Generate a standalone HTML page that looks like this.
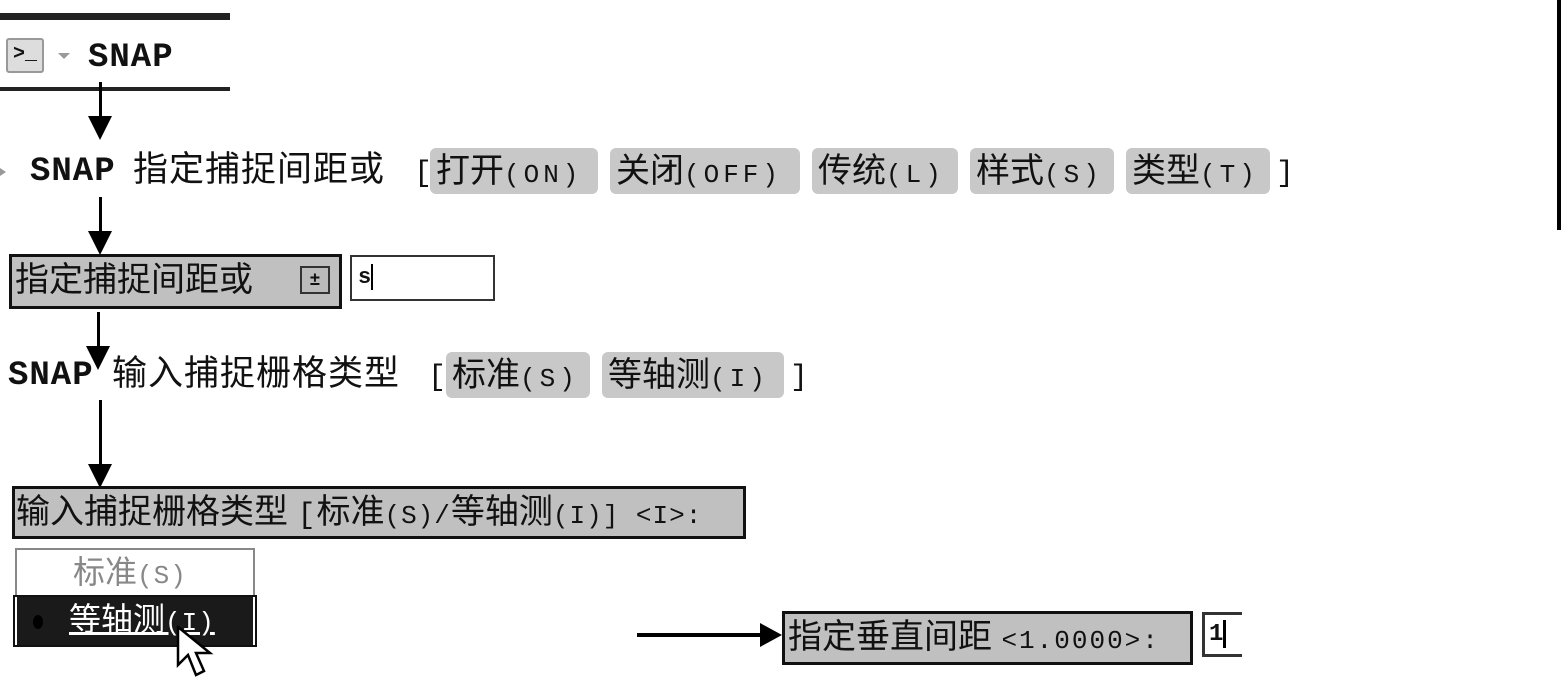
<!DOCTYPE html>
<html><head><meta charset="utf-8"><style>
body{margin:0;width:1564px;height:678px;background:#fff;position:relative;overflow:hidden;font-family:"Liberation Sans","Noto Sans CJK SC",sans-serif;color:#111}
.a{position:absolute;white-space:nowrap}
.m{font-family:"Liberation Mono","Noto Sans CJK SC",monospace}
.btn{position:absolute;background:#c8c8c8;border-radius:6px;height:46px;line-height:46px;font-size:34px;white-space:nowrap;padding-left:6px;box-sizing:border-box}
.btn span{font-family:"Liberation Mono",monospace;font-size:26px;letter-spacing:4px}
.gbox{position:absolute;background:#c0c0c0;border:3px solid #111;box-sizing:border-box;white-space:nowrap}
.vl{position:absolute;width:3px;background:#000}
.hd{position:absolute;width:0;height:0;border-left:12px solid transparent;border-right:12px solid transparent;border-top:24px solid #000}
.as{font-family:"Liberation Mono",monospace;font-size:26px;letter-spacing:1px}
</style></head><body>
<div class="a" style="left:0;top:13px;width:230px;height:7px;background:#222"></div>
<div class="a" style="left:0;top:87px;width:230px;height:4px;background:#222"></div>
<div class="a" style="left:6px;top:38px;width:38px;height:35px;border:2px solid #999;background:#ddd;box-sizing:border-box;border-radius:3px;font:bold 20px 'Liberation Mono',monospace;line-height:30px;text-align:center">&gt;_</div>
<div class="a" style="left:58px;top:53px;border-left:6px solid transparent;border-right:6px solid transparent;border-top:6px solid #999"></div>
<div class="a m" style="left:88px;top:38px;font-size:34px;font-weight:bold;line-height:40px;letter-spacing:1px">SNAP</div>
<div class="vl" style="left:99px;top:82px;height:40px"></div><div class="hd" style="left:88px;top:116px"></div>
<div class="a" style="left:0;top:168px;border-top:4px solid transparent;border-bottom:4px solid transparent;border-left:6px solid #999"></div>
<div class="a m" style="left:30px;top:152px;font-size:34px;font-weight:bold;line-height:40px;letter-spacing:1px">SNAP</div>
<div class="a" style="left:133px;top:148px;font-size:35px;line-height:44px;letter-spacing:1px">指定捕捉间距或</div>
<div class="a m" style="left:414px;top:154px;font-size:30px;line-height:40px">[</div>
<div class="btn" style="left:430px;top:148px;width:168px">打开<span>(ON)</span></div>
<div class="btn" style="left:610px;top:148px;width:190px">关闭<span>(OFF)</span></div>
<div class="btn" style="left:812px;top:148px;width:146px">传统<span>(L)</span></div>
<div class="btn" style="left:970px;top:148px;width:144px">样式<span>(S)</span></div>
<div class="btn" style="left:1126px;top:148px;width:144px">类型<span>(T)</span></div>
<div class="a m" style="left:1276px;top:154px;font-size:30px;line-height:40px">]</div>
<div class="vl" style="left:99px;top:197px;height:36px"></div><div class="hd" style="left:88px;top:231px"></div>
<div class="gbox" style="left:9px;top:254px;width:333px;height:55px;font-size:34px;line-height:46px;padding-left:3px">指定捕捉间距或</div>
<div class="a" style="left:300px;top:266px;width:30px;height:28px;border:2px solid #333;background:#bbb;box-sizing:border-box;font-size:18px;line-height:22px;text-align:center;font-weight:bold">±</div>
<div class="a" style="left:350px;top:255px;width:145px;height:46px;border:2px solid #333;box-sizing:border-box;font:bold 22px 'Liberation Mono',monospace;line-height:42px;padding-left:6px">s<span style="display:inline-block;width:2px;height:26px;background:#000;vertical-align:middle"></span></div>
<div class="vl" style="left:97px;top:312px;height:36px"></div><div class="hd" style="left:86px;top:346px"></div>
<div class="a m" style="left:8px;top:356px;font-size:34px;font-weight:bold;line-height:40px;letter-spacing:1px">SNAP</div>
<div class="a" style="left:112px;top:352px;font-size:35px;line-height:44px;letter-spacing:1px">输入捕捉栅格类型</div>
<div class="a m" style="left:428px;top:358px;font-size:30px;line-height:40px">[</div>
<div class="btn" style="left:446px;top:352px;width:144px">标准<span>(S)</span></div>
<div class="btn" style="left:602px;top:352px;width:182px">等轴测<span>(I)</span></div>
<div class="a m" style="left:790px;top:358px;font-size:30px;line-height:40px">]</div>
<div class="vl" style="left:99px;top:400px;height:68px"></div><div class="hd" style="left:88px;top:464px"></div>
<div class="gbox" style="left:12px;top:486px;width:734px;height:53px;font-size:34px;line-height:46px;padding-left:1px">输入捕捉栅格类型 <span class="as" style="font-size:30px">[</span>标准<span class="as">(S)/</span>等轴测<span class="as">(I)]&nbsp;&lt;I&gt;:</span></div>
<div class="a" style="left:15px;top:548px;width:240px;height:50px;border:2px solid #888;box-sizing:border-box;background:#fff;color:#888;font-size:32px;line-height:44px;padding-left:56px">标准<span class="as">(S)</span></div>
<div class="a" style="left:15px;top:597px;width:240px;height:48px;background:#1a1a1a;border-left:2px solid #fff;border-right:2px solid #fff;outline:2px solid #111;box-sizing:border-box;color:#fff;font-size:32px;line-height:44px"><span style="display:inline-block;width:10px;height:14px;border-radius:50%;background:#000;margin:0 26px 0 16px;vertical-align:middle"></span><span style="text-decoration:underline">等轴测<span class="as">(I)</span></span></div>
<svg class="a" style="left:176px;top:625px" width="40" height="54"><path d="M2 2 L2 40 L12 30 L20 50 L28 46 L20 28 L34 28 Z" fill="#fff" stroke="#000" stroke-width="2.5"/></svg>
<div class="a" style="left:637px;top:633px;width:126px;height:4px;background:#000"></div>
<div class="a" style="left:760px;top:623px;border-top:12px solid transparent;border-bottom:12px solid transparent;border-left:22px solid #000"></div>
<div class="gbox" style="left:782px;top:611px;width:411px;height:54px;font-size:34px;line-height:46px;padding-left:3px">指定垂直间距 <span class="as" style="letter-spacing:2px">&lt;1.0000&gt;:</span></div>
<div class="a" style="left:1202px;top:612px;width:40px;height:45px;border:3px solid #333;border-right:none;box-sizing:border-box;font:bold 24px 'Liberation Mono',monospace;line-height:40px;padding-left:4px">1<span style="display:inline-block;width:3px;height:28px;background:#000;vertical-align:middle"></span></div>
<div class="a" style="left:1557px;top:0;width:4px;height:230px;background:#000"></div>
</body></html>
